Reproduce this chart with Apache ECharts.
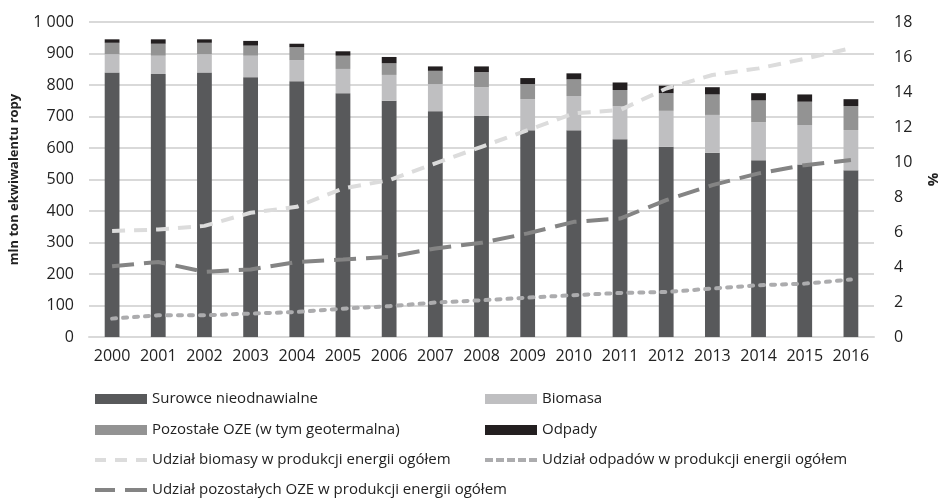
<!DOCTYPE html>
<html><head><meta charset="utf-8">
<script src="https://cdn.jsdelivr.net/npm/echarts@6/dist/echarts.min.js"></script>
<style>html,body{margin:0;padding:0;background:#fff}#c{width:949px;height:499px}</style>
</head><body><div id="c"></div>
<script>
const years = ['2000','2001','2002','2003','2004','2005','2006','2007','2008','2009','2010','2011','2012','2013','2014','2015','2016'];
const surowce = [840,835,840,825,812,774,750,717,702,656,656,628,604,585,561,548,529];
const biomasa = [58,58,58,68,67,77,82,86,91,99,109,105,114,120,121,125,128];
const pozostale = [36,38,36,32,41,42,37,42,48,48,53,51,56,65,69,74,76];
const odpady = [11,14,11,15,11,14,20,14,18,19,19,24,24,23,23,23,22];
const udzialBiomasy = [6.06,6.14,6.35,7.1,7.44,8.49,8.96,9.92,10.87,11.82,12.78,12.97,14.2,14.97,15.35,15.9,16.5];
const udzialOdpadow = [1.05,1.24,1.24,1.34,1.43,1.62,1.76,1.97,2.1,2.25,2.39,2.52,2.57,2.77,2.96,3.05,3.28];
const udzialPozostalych = [4.04,4.29,3.72,3.86,4.29,4.43,4.58,5.06,5.38,5.92,6.58,6.77,7.82,8.68,9.35,9.82,10.11];

const FONT = 'Open Sans';
const FS = 16;
const chart = echarts.init(document.getElementById('c'));
const legendText = {fontFamily: FONT, fontSize: 15, color: '#222', lineHeight: 16};

const ICON_BIO = 'path://M0,0h11v4h-11z M20,0h12v4h-12z M41,0h11v4h-11z';
const ICON_POZ = 'path://M0,0h20v4h-20z M30,0h22v4h-22z';
const ICON_ODP = 'path://M0,0h8v4h-8z M11,0h8v4h-8z M22,0h8v4h-8z M33,0h8v4h-8z M44,0h8v4h-8z';

function leg(name, left, cy, icon) {
  const h = icon ? 4 : 10;
  return {left: left, top: cy - 8, padding: 0, itemWidth: 52, itemHeight: h, textStyle: legendText,
          data: [icon ? {name: name, icon: icon} : {name: name, icon: 'rect'}]};
}

chart.setOption({
  animation: false,
  grid: {left: 87, right: 62, top: 22, bottom: 162},
  legend: [
    leg('Surowce nieodnawialne', 95, 399),
    leg('Pozostałe OZE (w tym geotermalna)', 95, 430),
    leg('Udział biomasy w produkcji energii ogółem', 95, 460, ICON_BIO),
    leg('Udział pozostałych OZE w produkcji energii ogółem', 95, 490, ICON_POZ),
    leg('Biomasa', 485, 399),
    leg('Odpady', 485, 430),
    leg('Udział odpadów w produkcji energii ogółem', 485, 460, ICON_ODP)
  ],
  xAxis: {type: 'category', data: years,
    axisLine: {lineStyle: {color: '#d9d9d9', width: 2}}, axisTick: {show: false},
    axisLabel: {interval: 0, fontFamily: FONT, fontSize: FS, color: '#222', margin: 11}},
  yAxis: [
    {type: 'value', min: 0, max: 1000, interval: 100,
     name: 'mln ton ekwiwalentu ropy', nameLocation: 'middle', nameGap: 68, nameRotate: 90,
     nameTextStyle: {fontFamily: FONT, fontSize: 13, fontWeight: 'bold', color: '#222'},
     axisLabel: {fontFamily: FONT, fontSize: FS, color: '#222', margin: 15,
       formatter: v => v >= 1000 ? String(v).replace(/\B(?=(\d{3})+(?!\d))/g, ' ') : String(v)},
     splitLine: {lineStyle: {color: '#d9d9d9', width: 2}}, axisLine: {show: false}, axisTick: {show: false}},
    {type: 'value', min: 0, max: 18, interval: 2, position: 'right',
     name: '%', nameLocation: 'middle', nameGap: 52, nameRotate: 90,
     nameTextStyle: {fontFamily: FONT, fontSize: 15, fontWeight: 'bold', color: '#222'},
     axisLabel: {fontFamily: FONT, fontSize: FS, color: '#222', margin: 20},
     splitLine: {show: false}, axisLine: {show: false}, axisTick: {show: false}}
  ],
  series: [
    {name: 'Surowce nieodnawialne', type: 'bar', stack: 'a', data: surowce, barWidth: '32%', itemStyle: {color: '#58595b'}},
    {name: 'Biomasa', type: 'bar', stack: 'a', data: biomasa, itemStyle: {color: '#bfbfc1'}},
    {name: 'Pozostałe OZE (w tym geotermalna)', type: 'bar', stack: 'a', data: pozostale, itemStyle: {color: '#939393'}},
    {name: 'Odpady', type: 'bar', stack: 'a', data: odpady, itemStyle: {color: '#231f20'}},
    {name: 'Udział biomasy w produkcji energii ogółem', type: 'line', yAxisIndex: 1, data: udzialBiomasy, symbol: 'none', z: 5,
     itemStyle: {color: '#dcdcdc'}, lineStyle: {color: '#dcdcdc', width: 4, type: [13, 9]}},
    {name: 'Udział odpadów w produkcji energii ogółem', type: 'line', yAxisIndex: 1, data: udzialOdpadow, symbol: 'none', z: 5,
     itemStyle: {color: '#acacae'}, lineStyle: {color: '#acacae', width: 4, type: [4, 7], cap: 'round'}},
    {name: 'Udział pozostałych OZE w produkcji energii ogółem', type: 'line', yAxisIndex: 1, data: udzialPozostalych, symbol: 'none', z: 5,
     itemStyle: {color: '#848484'}, lineStyle: {color: '#848484', width: 4, type: [22, 10]}}
  ]
});
</script></body></html>
